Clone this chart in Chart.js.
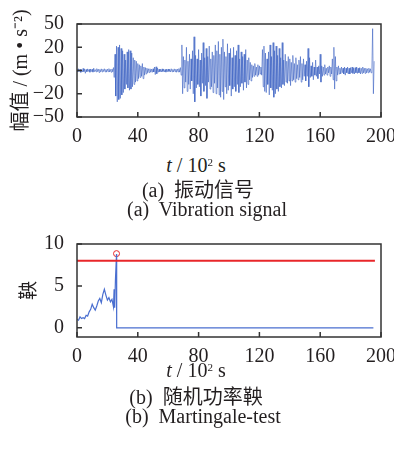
<!DOCTYPE html>
<html><head><meta charset="utf-8">
<script src="https://cdn.jsdelivr.net/npm/chart.js@4/dist/chart.umd.min.js"></script>
<style>
html,body{margin:0;padding:0;background:#fff;}
body{width:394px;height:454px;position:relative;overflow:hidden;font-family:"Liberation Serif","Noto Sans CJK SC",serif;color:#231f20;}
.cv{position:absolute;left:0;width:394px;height:150px;}
.cap{position:absolute;left:0;width:394px;text-align:center;font-size:20px;line-height:20px;white-space:pre;}
sup{font-size:11px;vertical-align:top;position:relative;top:-3px;}
</style></head><body>
<div class="cv" style="top:0"><canvas id="c1" width="394" height="150"></canvas></div>
<div class="cv" style="top:220px"><canvas id="c2" width="394" height="150"></canvas></div>
<div class="cap" style="top:155px;left:-1px"><i>t</i> / 10<sup>2</sup> s</div>
<div class="cap" style="top:180px;left:1px">(a)  振动信号</div>
<div class="cap" style="top:199px;left:10px">(a)  Vibration signal</div>
<div class="cap" style="top:360px;left:-1px"><i>t</i> / 10<sup>2</sup> s</div>
<div class="cap" style="top:387px;left:-1px">(b)  随机功率鞅</div>
<div class="cap" style="top:406px;left:6px">(b)  Martingale-test</div>
<script>
// ---------- data ----------
const timeTicks = [0, 40, 80, 120, 160, 200];
const sampleStep = 0.5;
const signal = [
  0.8,-1.2,1.5,-0.9,1.1,-1.6,0.7,-1.3,1.8,-1.0,1.2,-2.4,0.9,-1.1,1.4,-0.8,1.0,-1.5,1.3,-0.9,
  1.1,-1.4,2.0,-1.0,0.8,-1.2,1.6,-0.9,1.2,-1.7,0.9,-1.1,1.4,-1.3,1.0,-0.8,1.5,-1.2,0.9,-1.4,
  1.2,-1.0,1.6,-1.3,0.9,-1.5,1.3,-1.1,2.5,-6.0,14,-22,21,-27,20,-25,22,-24,19,-21,
  17,-19,14,-16,9,-12,16,-15,18,-17,17,-16,15,-14,11,-12,9,-10,8,-9,
  6,-7,5,-6,4,-5,6,-7,3,-4,2.5,-3,2,-2,1.5,-1.8,1.5,-1.4,1.2,-1.6,
  1.5,-1.3,3,-3.5,3.2,-2.8,2,-1.5,1.2,-1.1,1.0,-1.3,1.4,-0.9,1.1,-1.2,0.9,-1.4,1.2,-1.0,
  1.3,-0.9,1.0,-1.3,1.5,-1.1,0.9,-1.2,1.4,-1.0,1.1,-1.5,1.3,-1.2,1.6,-1.4,2.5,-4,22,-20,
  12,-15,9,-10,20,-18,8,-12,14,-16,10,-9,17,-20,29,-27,13,-15,10,-12,
  18,-14,9,-22,15,-11,24,-18,11,-13,19,-24,12,-10,21,-16,10,-14,16,-19,
  13,-11,22,-20,17,-15,25,-21,14,-23,20,-18,27,-25,16,-14,12,-20,23,-17,
  15,-13,19,-22,11,-16,20,-14,13,-18,17,-12,22,-19,10,-14,16,-11,12,-17,
  14,-10,18,-15,9,-12,11,-8,7,-9,5,-6,4,-5,6,-4,3,-5,5,-4,
  4,-3,3,-4,18,-14,21,-18,15,-19,10,-12,16,-21,22,-15,12,-17,24,-23,
  17,-20,21,-16,13,-18,19,-14,11,-15,24,-12,9,-13,14,-10,8,-11,12,-9,
  10,-13,7,-9,13,-8,6,-10,11,-7,5,-8,9,-6,12,-10,6,-8,10,-5,
  5,-9,8,-5,19,-14,11,-6,4,-5,7,-8,3,-4,9,-5,3,-7,4,-3,
  14,-10,4,-5,3,-4,5,-3,2,-4,3,-2,4,-5,3,-3,10,-8,20,-16,
  12,-9,3,-4,4,-3,2,-3,3,-2,2,-3,3,-4,2,-2,3,-3,2,-3,
  2.5,-2,3,-2.5,2,-3,2.5,-2,3,-2.5,2,-2,2.5,-3,2,-2.5,3,-2,2,-2.5,
  2,-2,1.5,-2,2,-1.5,1.5,-2,2,36,-20,8
];
const ampTickValues = [-40, -20, 0, 20, 40];
const ampTickLabels = ['\u221250', '\u221220', '0', '20', '50'];

// martingale test
const martT = [0,1,2,3,4,5,6,7,8,9,10,11,12,13,14,15,16,17,18,19,20,21,22,23,24,24.4,24.8,25.3,26,26.1,195];
const martV = [1.0,0.9,1.3,1.1,1.2,1.1,1.5,1.4,1.9,2.2,2.8,2.4,2.1,2.6,3.2,3.5,3.0,4.0,4.6,3.9,3.3,3.6,3.1,3.4,2.5,4.6,2.4,5.8,8.8,0,0];
const thresholdT = [0, 196];
const thresholdV = [8, 8];
const alarmT = [26];
const alarmV = [8.85];
const martTicks = [0, 5, 10];

// ---------- helpers ----------
const tickFont = {family: '"Liberation Serif","Times New Roman",serif', size: 20};
const txtColor = '#231f20';

const boxPlugin = {
  id: 'box',
  afterDatasetsDraw(chart) {
    const {ctx, chartArea: a, scales} = chart;
    ctx.save();
    ctx.strokeStyle = '#333';
    ctx.lineWidth = 1.5;
    ctx.beginPath();
    scales.x.ticks.forEach(t => {
      const p = scales.x.getPixelForValue(t.value);
      ctx.moveTo(p, a.bottom); ctx.lineTo(p, a.bottom - 5);
    });
    scales.y.ticks.forEach(t => {
      const p = scales.y.getPixelForValue(t.value);
      ctx.moveTo(a.left, p); ctx.lineTo(a.left + 5, p);
    });
    ctx.stroke();
    ctx.strokeRect(a.left, a.top, a.width, a.height);
    ctx.restore();
  }
};

function xScale() {
  return {
    type: 'linear', min: 0, max: 200,
    afterBuildTicks: s => { s.ticks = timeTicks.map(v => ({value: v})); },
    grid: {display: false}, border: {display: false},
    ticks: {padding: 0, font: tickFont, color: txtColor, maxRotation: 0, autoSkip: false},
    afterFit: s => { s.height = 33; s.paddingLeft = 0; s.paddingRight = 0; }
  };
}

// ---------- chart (a) ----------
new Chart(document.getElementById('c1'), {
  type: 'line',
  data: {
    datasets: [{
      data: signal.map((v, i) => ({x: i * sampleStep, y: v})),
      borderColor: 'rgba(52,92,192,0.8)', borderWidth: 0.7,
      pointRadius: 0, tension: 0
    }]
  },
  options: {
    responsive: false, animation: false, events: [],
    layout: {padding: {top: 24, right: 13, left: 0, bottom: 0}},
    plugins: {legend: {display: false}, tooltip: {enabled: false}},
    scales: {
      x: xScale(),
      y: {
        min: -40, max: 40,
        afterBuildTicks: s => { s.ticks = ampTickValues.map(v => ({value: v})); },
        grid: {display: false}, border: {display: false},
        ticks: {padding: 5, font: tickFont, color: txtColor, autoSkip: false,
          callback: v => ampTickLabels[ampTickValues.indexOf(v)]},
        title: {display: true, text: '幅值 / (m \u2022 s\u207B\u00B2)', color: txtColor,
          font: {family: '"Liberation Serif","Noto Sans CJK SC",serif', size: 20}, padding: {top: 10, bottom: 0}},
        afterFit: s => { s.width = 77; s.paddingTop = 0; s.paddingBottom = 0; }
      }
    }
  },
  plugins: [boxPlugin]
});

// ---------- chart (b) ----------
new Chart(document.getElementById('c2'), {
  type: 'line',
  data: {
    datasets: [
      {
        data: thresholdT.map((t, i) => ({x: t, y: thresholdV[i]})),
        borderColor: '#e8262a', borderWidth: 2, pointRadius: 0
      },
      {
        data: martT.map((t, i) => ({x: t, y: martV[i]})),
        borderColor: '#4a6fd0', borderWidth: 1.2, pointRadius: 0, tension: 0
      },
      {
        data: alarmT.map((t, i) => ({x: t, y: alarmV[i]})),
        showLine: false, pointRadius: 3, pointStyle: 'circle',
        pointBorderColor: '#e8262a', pointBackgroundColor: 'rgba(0,0,0,0)', pointBorderWidth: 1
      }
    ]
  },
  options: {
    responsive: false, animation: false, events: [],
    layout: {padding: {top: 24, right: 13, left: 0, bottom: 0}},
    plugins: {legend: {display: false}, tooltip: {enabled: false}},
    scales: {
      x: xScale(),
      y: {
        min: -1.1, max: 10,
        afterBuildTicks: s => { s.ticks = martTicks.map(v => ({value: v})); },
        grid: {display: false}, border: {display: false},
        ticks: {padding: 5, font: tickFont, color: txtColor, autoSkip: false},
        title: {display: true, text: '鞅', color: txtColor,
          font: {family: '"Noto Sans CJK SC",sans-serif', size: 19}, padding: {top: 16, bottom: 0}},
        afterFit: s => { s.width = 77; s.paddingTop = 0; s.paddingBottom = 0; }
      }
    }
  },
  plugins: [boxPlugin]
});
</script>
</body></html>
